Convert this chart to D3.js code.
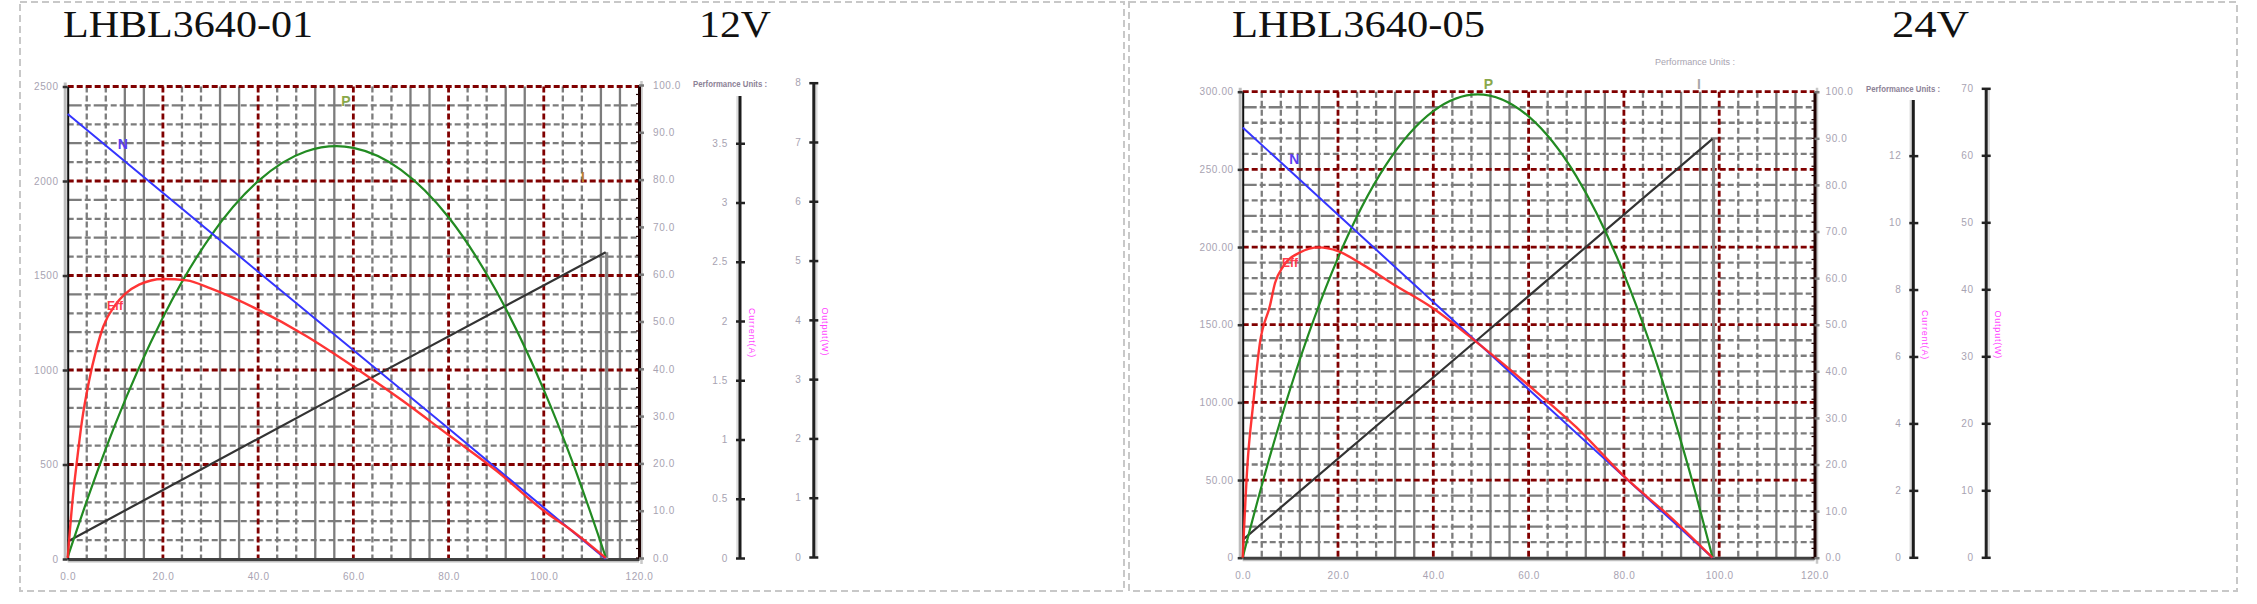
<!DOCTYPE html>
<html><head><meta charset="utf-8">
<script src="https://cdn.jsdelivr.net/npm/d3@7/dist/d3.min.js"></script>
<style>
html,body{margin:0;padding:0;background:#fff;overflow:hidden;}
svg{display:block;}
</style></head><body>
<svg id="chart" width="2257" height="604"></svg>
<script>
// ================= DATA =================
const xTickValues = [0, 20, 40, 60, 80, 100, 120];
const xTickLabels = ["0.0", "20.0", "40.0", "60.0", "80.0", "100.0", "120.0"];
const effTickValues = [0, 10, 20, 30, 40, 50, 60, 70, 80, 90, 100];
const effTickLabels = ["0.0", "10.0", "20.0", "30.0", "40.0", "50.0", "60.0", "70.0", "80.0", "90.0", "100.0"];
const axisTitleText = "Performance Units :";
const currentAxisName = "Current(A)";
const powerAxisName = "Output(W)";

// ---- Motor 1 : LHBL3640-01, 12V ----
const m1Title = "LHBL3640-01";
const m1Voltage = "12V";
const m1SpeedTicks = [0, 500, 1000, 1500, 2000, 2500];
const m1SpeedLabels = ["0", "500", "1000", "1500", "2000", "2500"];
const m1CurrentTicks = [0, 0.5, 1, 1.5, 2, 2.5, 3, 3.5];
const m1CurrentLabels = ["0", "0.5", "1", "1.5", "2", "2.5", "3", "3.5"];
const m1PowerTicks = [0, 1, 2, 3, 4, 5, 6, 7, 8];
const m1PowerLabels = ["0", "1", "2", "3", "4", "5", "6", "7", "8"];
const m1SpeedTorque = [0, 40, 80, 113];
const m1Speed = [2355, 1520, 690, 0];
const m1CurrentTorque = [0, 60, 113];
const m1Current = [0.14, 1.44, 2.58];
const m1PowerTorque = [0, 5, 10, 20, 30, 40, 50, 56.5, 60, 70, 80, 90, 100, 106, 113];
const m1Power = [0, 1.17, 2.24, 4.04, 5.41, 6.34, 6.84, 6.93, 6.90, 6.53, 5.73, 4.49, 2.82, 1.61, 0];
const m1EffTorque = [0, 1, 2, 3, 4.5, 6, 7.5, 10, 12, 15, 20, 25, 30, 40, 50, 60, 70, 80, 90, 100, 106, 113];
const m1Eff = [0, 12, 21, 29, 37.5, 44, 49, 53.5, 55.8, 57.8, 59, 58.7, 57, 52.5, 47, 40.5, 33.5, 26, 18.5, 10, 5.7, 0];

// ---- Motor 2 : LHBL3640-05, 24V ----
const m2Title = "LHBL3640-05";
const m2Voltage = "24V";
const m2SpeedTicks = [0, 50, 100, 150, 200, 250, 300];
const m2SpeedLabels = ["0", "50.00", "100.00", "150.00", "200.00", "250.00", "300.00"];
const m2CurrentTicks = [0, 2, 4, 6, 8, 10, 12];
const m2CurrentLabels = ["0", "2", "4", "6", "8", "10", "12"];
const m2PowerTicks = [0, 10, 20, 30, 40, 50, 60, 70];
const m2PowerLabels = ["0", "10", "20", "30", "40", "50", "60", "70"];
const m2SpeedTorque = [0, 40, 80, 98.6];
const m2Speed = [277, 164.6, 52.2, 0];
const m2CurrentTorque = [0, 50, 98.6];
const m2Current = [0.52, 6.59, 12.5];
const m2PowerTorque = [0, 5, 10, 20, 30, 40, 49.3, 60, 70, 80, 90, 95, 98.6];
const m2Power = [0, 13.3, 25.2, 44.7, 58.5, 66.6, 69.1, 65.8, 56.9, 42.3, 22.0, 9.7, 0];
const m2EffTorque = [0, 1, 2.2, 3.6, 5.7, 6.8, 8.5, 12, 16, 20, 25, 31.6, 40, 50, 60, 70, 80, 90, 98.6];
const m2Eff = [0, 20, 33, 46, 54, 59, 62.5, 65.5, 66.6, 65.8, 63, 58.7, 53.5, 45.5, 37, 28, 17.5, 8.5, 0];

// ================= LAYOUT / DRAW =================
const FONT = "'Liberation Sans', Arial, sans-serif";
const SERIF = "'Liberation Serif', 'Times New Roman', serif";
const svg = d3.select("#chart");

const zip = (a, b) => a.map((v, i) => [v, b[i]]);

const charts = [
  {
    title: m1Title, voltage: m1Voltage,
    panel: [20, 2, 1124, 591],
    titleX: 63, titleW: 250, voltX: 699, voltW: 72,
    x0: 67.7, x1: 639, yB: 559, yT: 86.5,
    speedTicks: m1SpeedTicks, speedLabels: m1SpeedLabels,
    effRange: [558, 85],
    curTicks: m1CurrentTicks, curLabels: m1CurrentLabels, curMax: 4, curRange: [558, 84],
    powTicks: m1PowerTicks, powLabels: m1PowerLabels, powMax: 8, powRange: [557, 82.7],
    ax3: 740, ax3Top: 96, ax4: 813.3,
    speed: zip(m1SpeedTorque, m1Speed), current: zip(m1CurrentTorque, m1Current),
    power: zip(m1PowerTorque, m1Power), eff: zip(m1EffTorque, m1Eff),
    rightPad: 9, ax3TitleX: 730, ax3TitleY: 87, extraTitle: null,
    labels: {N: [122.7, 149], P: [346, 106], I: [583, 182], Eff: [115, 310]},
    iLabelColor: "#c08030"
  },
  {
    title: m2Title, voltage: m2Voltage,
    panel: [1129, 2, 2237, 591],
    titleX: 1232, titleW: 253, voltX: 1892, voltW: 77,
    x0: 1242.7, x1: 1814.5, yB: 557.7, yT: 91.7,
    speedTicks: m2SpeedTicks, speedLabels: m2SpeedLabels,
    effRange: [557.7, 91.7],
    curTicks: m2CurrentTicks, curLabels: m2CurrentLabels, curMax: 14, curRange: [557.3, 88.7],
    powTicks: m2PowerTicks, powLabels: m2PowerLabels, powMax: 70, powRange: [557.3, 88.3],
    ax3: 1913.3, ax3Top: 100, ax4: 1985.7,
    speed: zip(m2SpeedTorque, m2Speed), current: zip(m2CurrentTorque, m2Current),
    power: zip(m2PowerTorque, m2Power), eff: zip(m2EffTorque, m2Eff),
    rightPad: 6, ax3TitleX: 1903, ax3TitleY: 92, extraTitle: [1695, 65],
    labels: {N: [1294.3, 164], P: [1488.3, 89], I: [1699, 89], Eff: [1290, 267]},
    iLabelColor: "#a8a8a8"
  }
];

function styleText(sel, opts = {}) {
  sel.selectAll("text")
    .attr("font-family", FONT)
    .attr("font-size", opts.size || 10)
    .attr("fill", opts.fill || "#a8a3b2")
    .attr("letter-spacing", opts.ls == null ? 0.6 : opts.ls);
}

charts.forEach(c => {
  const g = svg.append("g");
  const [px0, py0, px1, py1] = c.panel;
  g.append("rect").attr("x", px0).attr("y", py0).attr("width", px1 - px0).attr("height", py1 - py0)
    .attr("fill", "none").attr("stroke", "#c8c8c8").attr("stroke-width", 2).attr("stroke-dasharray", "7,4");

  // titles
  g.append("text").attr("x", c.titleX).attr("y", 36.5).text(c.title)
    .attr("font-family", SERIF).attr("font-size", 38).attr("fill", "#111")
    .attr("textLength", c.titleW).attr("lengthAdjust", "spacingAndGlyphs");
  g.append("text").attr("x", c.voltX).attr("y", 36.5).text(c.voltage)
    .attr("font-family", SERIF).attr("font-size", 38).attr("fill", "#111")
    .attr("textLength", c.voltW).attr("lengthAdjust", "spacingAndGlyphs");

  const x = d3.scaleLinear().domain([0, 120]).range([c.x0, c.x1]);
  const sMax = c.speedTicks[c.speedTicks.length - 1];
  const yS = d3.scaleLinear().domain([0, sMax]).range([c.yB, c.yT]);
  const yE = d3.scaleLinear().domain([0, 100]).range(c.effRange);
  const yC = d3.scaleLinear().domain([0, c.curMax]).range(c.curRange);
  const yP = d3.scaleLinear().domain([0, c.powMax]).range(c.powRange);

  // ---- grid ----
  const grid = g.append("g");
  const xStep = xTickValues[1] - xTickValues[0];
  const sStep = c.speedTicks[1] - c.speedTicks[0];
  const xMinor = d3.range(xStep / 5, 120, xStep / 5).filter(v => Math.abs(v / xStep - Math.round(v / xStep)) > 1e-6);
  const sMinor = d3.range(sStep / 5, sMax, sStep / 5).filter(v => Math.abs(v / sStep - Math.round(v / sStep)) > 1e-6);
  grid.selectAll(".hmin").data(sMinor).join("line")
    .attr("x1", c.x0).attr("x2", c.x1).attr("y1", d => yS(d)).attr("y2", d => yS(d))
    .attr("stroke", "#7c7c7c").attr("stroke-width", 2.3)
    .attr("stroke-dasharray", (d, i) => (i % 2 ? "14,3,6,3" : "6,3"));
  grid.selectAll(".vmin").data(xMinor).join("line")
    .attr("x1", d => x(d)).attr("x2", d => x(d)).attr("y1", c.yT).attr("y2", c.yB)
    .attr("stroke", "#7c7c7c").attr("stroke-width", 2.3)
    .attr("stroke-dasharray", (d, i) => (Math.round(d / (xStep / 5)) % 5 <= 2 ? "6,3" : null));
  grid.selectAll(".hmaj").data(c.speedTicks.filter(v => v > 0)).join("line")
    .attr("x1", c.x0).attr("x2", c.x1).attr("y1", d => yS(d)).attr("y2", d => yS(d))
    .attr("stroke", "#800000").attr("stroke-width", 2.8).attr("stroke-dasharray", "6,3");
  grid.selectAll(".vmaj").data(xTickValues.filter(v => v > 0 && v < 120)).join("line")
    .attr("x1", d => x(d)).attr("x2", d => x(d)).attr("y1", c.yT).attr("y2", c.yB)
    .attr("stroke", "#800000").attr("stroke-width", 2.8).attr("stroke-dasharray", "6,3");

  // ---- axes ----
  // bottom
  g.append("line").attr("x1", c.x0).attr("x2", c.x1).attr("y1", c.yB + 2.5).attr("y2", c.yB + 2.5)
    .attr("stroke", "#c0c0c0").attr("stroke-width", 2);
  const xa = g.append("g").attr("transform", `translate(0,${c.yB})`)
    .call(d3.axisBottom(x).tickValues(xTickValues).tickFormat((d, i) => xTickLabels[i]).tickSize(0).tickPadding(14));
  xa.select(".domain").attr("stroke", "#404040").attr("stroke-width", 3);
  styleText(xa);

  // left speed axis
  g.append("line").attr("x1", c.x0 - 2.5).attr("x2", c.x0 - 2.5).attr("y1", c.yT - 4).attr("y2", c.yB)
    .attr("stroke", "#bdbdbd").attr("stroke-width", 3);
  const la = g.append("g").attr("transform", `translate(${c.x0},0)`)
    .call(d3.axisLeft(yS).tickValues(c.speedTicks).tickFormat((d, i) => c.speedLabels[i]).tickSize(5).tickPadding(4).tickSizeOuter(0));
  la.select(".domain").attr("stroke", "#111").attr("stroke-width", 2);
  la.selectAll(".tick line").attr("stroke", "#333").attr("stroke-width", 2.5);
  styleText(la);

  // right efficiency axis
  g.append("line").attr("x1", c.x1 + 2.5).attr("x2", c.x1 + 2.5).attr("y1", c.effRange[1] - 4).attr("y2", c.effRange[0] + 6)
    .attr("stroke", "#c8c8c8").attr("stroke-width", 2.5);
  const effMinor = d3.range(0, 100, 2);
  g.selectAll(null).data(effMinor).join("line")
    .attr("x1", c.x1 - 3).attr("x2", c.x1).attr("y1", d => yE(d)).attr("y2", d => yE(d))
    .attr("stroke", "#200000").attr("stroke-width", 1.2);
  const ra = g.append("g").attr("transform", `translate(${c.x1},0)`)
    .call(d3.axisRight(yE).tickValues(effTickValues).tickFormat((d, i) => effTickLabels[i]).tickSize(5).tickPadding(c.rightPad).tickSizeOuter(0));
  ra.select(".domain").attr("stroke", "#1e0000").attr("stroke-width", 3);
  ra.selectAll(".tick line").attr("stroke", "#7a7a7a").attr("stroke-width", 2.5);
  styleText(ra);

  // current axis (3rd)
  g.append("line").attr("x1", c.ax3 - 2.5).attr("x2", c.ax3 - 2.5).attr("y1", c.ax3Top).attr("y2", yC(0))
    .attr("stroke", "#dcdcdc").attr("stroke-width", 2.5);
  g.append("line").attr("x1", c.ax3).attr("x2", c.ax3).attr("y1", c.ax3Top).attr("y2", yC(0) + 1)
    .attr("stroke", "#1c1c1c").attr("stroke-width", 3);
  const ca = g.append("g").attr("transform", `translate(${c.ax3},0)`)
    .call(d3.axisLeft(yC).tickValues(c.curTicks).tickFormat((d, i) => c.curLabels[i]).tickSize(4).tickPadding(8).tickSizeOuter(0));
  ca.select(".domain").remove();
  ca.selectAll(".tick line").attr("x2", -4).attr("x1", 5).attr("stroke", "#222").attr("stroke-width", 2.5);
  styleText(ca);
  g.append("text").attr("x", c.ax3TitleX).attr("y", c.ax3TitleY).attr("text-anchor", "middle")
    .text(axisTitleText).attr("font-family", FONT).attr("font-size", 8.5).attr("font-weight", "bold")
    .attr("fill", "#8c8296").attr("textLength", 74).attr("lengthAdjust", "spacingAndGlyphs");
  g.append("text").attr("transform", `translate(${c.ax3 + 9},${yC(c.curMax * 0.5) + 12}) rotate(90)`)
    .attr("text-anchor", "middle").text(currentAxisName)
    .attr("font-family", FONT).attr("font-size", 9).attr("fill", "#ff44ff").attr("letter-spacing", 0.8);

  // power axis (4th)
  g.append("line").attr("x1", c.ax4 + 3).attr("x2", c.ax4 + 3).attr("y1", yP(c.powMax)).attr("y2", yP(0))
    .attr("stroke", "#dcdcdc").attr("stroke-width", 2.5);
  const pa = g.append("g").attr("transform", `translate(${c.ax4},0)`)
    .call(d3.axisLeft(yP).tickValues(c.powTicks).tickFormat((d, i) => c.powLabels[i]).tickSize(4).tickPadding(8).tickSizeOuter(0));
  pa.select(".domain").attr("stroke", "#222").attr("stroke-width", 3);
  pa.selectAll(".tick line").attr("x1", 5).attr("stroke", "#222").attr("stroke-width", 2.5);
  styleText(pa);
  g.append("text").attr("transform", `translate(${c.ax4 + 9},${yP(c.powMax * 0.5) + 12}) rotate(90)`)
    .attr("text-anchor", "middle").text(powerAxisName)
    .attr("font-family", FONT).attr("font-size", 9).attr("fill", "#ff44ff").attr("letter-spacing", 0.8);

  if (c.extraTitle) {
    g.append("text").attr("x", c.extraTitle[0]).attr("y", c.extraTitle[1]).attr("text-anchor", "middle")
      .text(axisTitleText).attr("font-family", FONT).attr("font-size", 8.5)
      .attr("fill", "#a8a4b0").attr("textLength", 80).attr("lengthAdjust", "spacingAndGlyphs");
  }

  // ---- curves ----
  const curves = g.append("g");
  const lin = (ys) => d3.line().x(d => x(d[0])).y(d => ys(d[1]));
  const smooth = (ys) => d3.line().x(d => x(d[0])).y(d => ys(d[1])).curve(d3.curveMonotoneX);

  // stall vertical (grey) from last current point down to the axis
  const lastI = c.current[c.current.length - 1];
  curves.append("line").attr("x1", x(lastI[0]) + 1).attr("x2", x(lastI[0]) + 1)
    .attr("y1", yC(lastI[1])).attr("y2", c.yB)
    .attr("stroke", "#888").attr("stroke-width", 3.2);
  curves.append("path").datum(c.current).attr("d", lin(yC))
    .attr("fill", "none").attr("stroke", "#333").attr("stroke-width", 2.2);
  curves.append("path").datum(c.power).attr("d", smooth(yP))
    .attr("fill", "none").attr("stroke", "#228b22").attr("stroke-width", 2.2);
  curves.append("path").datum(c.speed).attr("d", lin(yS))
    .attr("fill", "none").attr("stroke", "#3535ff").attr("stroke-width", 2);
  curves.append("path").datum(c.eff).attr("d", smooth(yE))
    .attr("fill", "none").attr("stroke", "#ff2a2a").attr("stroke-width", 2.4).attr("opacity", 0.95);

  // ---- curve labels ----
  const L = c.labels;
  const lab = (pos, t, col, size) => g.append("text").attr("x", pos[0]).attr("y", pos[1])
    .attr("text-anchor", "middle").text(t).attr("font-family", FONT).attr("font-weight", "bold")
    .attr("font-size", size).attr("fill", col);
  lab(L.N, "N", "#5a3cf0", 14);
  lab(L.P, "P", "#8aa84a", 14);
  lab(L.I, "I", c.iLabelColor, 14);
  lab(L.Eff, "Eff", "#ff3a4a", 12);
});
</script>
</body></html>
